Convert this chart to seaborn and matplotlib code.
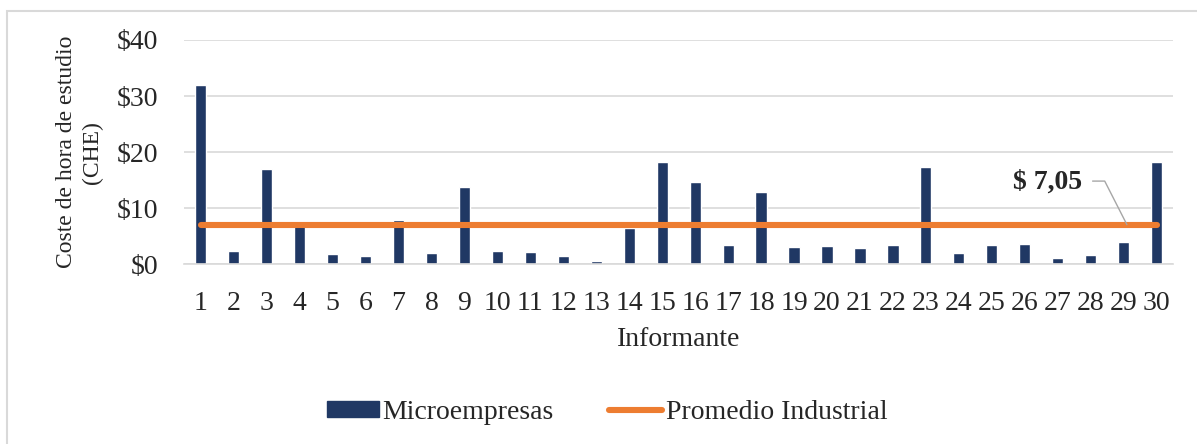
from __future__ import annotations

import pandas as pd
import seaborn as sns
import matplotlib.pyplot as plt
from matplotlib.patches import Rectangle
from matplotlib.lines import Line2D

informantes = [str(i) for i in range(1, 31)]
microempresas = [
    32.0, 2.3, 16.9, 6.8, 1.8, 1.4, 7.9, 2.0, 13.7, 2.3,
    2.2, 1.4, 0.6, 6.4, 18.3, 14.6, 3.5, 12.8, 3.1, 3.2,
    2.9, 3.4, 17.4, 2.0, 3.4, 3.6, 1.1, 1.7, 4.0, 18.3,
]
promedio_industrial = 7.05
y_ticks = [0, 10, 20, 30, 40]

BAR_COLOR = "#203864"
LINE_COLOR = "#ED7D31"
GRID_COLOR = "#D9D9D9"
FS = 20


def main() -> None:
    df = pd.DataFrame(
        {
            "Informante": informantes,
            "CHE": microempresas,
            "Promedio": [promedio_industrial] * len(informantes),
        }
    )

    sns.set_theme(style="white")
    plt.rcParams["font.family"] = ["Liberation Serif", "DejaVu Serif"]

    fig = plt.figure(figsize=(11.97, 4.44), dpi=100)
    ax = fig.add_axes([0.154, 0.405, 0.826, 0.505])

    sns.barplot(data=df, x="Informante", y="CHE", color=BAR_COLOR,
                width=0.34, saturation=1, ax=ax, zorder=2)
    sns.lineplot(data=df, x="Informante", y="Promedio", color=LINE_COLOR,
                 linewidth=4.4, ax=ax, zorder=3, solid_capstyle="round")

    ax.set_xlim(-0.5, len(informantes) - 0.5)
    ax.set_ylim(0, 40)
    ax.set_yticks(y_ticks)
    ax.set_yticklabels([f"${t}" for t in y_ticks])
    ax.yaxis.grid(True, color=GRID_COLOR, linewidth=1.2)
    ax.set_axisbelow(True)
    for side in ["left", "right", "top"]:
        ax.spines[side].set_visible(False)
    ax.spines["bottom"].set_color(GRID_COLOR)
    ax.spines["bottom"].set_linewidth(1.2)
    ax.tick_params(axis="y", length=0, pad=19, labelsize=FS)
    ax.tick_params(axis="x", length=0, pad=19, labelsize=FS)

    ax.set_xlabel("Informante", fontsize=FS, labelpad=8)
    ax.set_ylabel("Coste de hora de estudio\n(CHE)", fontsize=17,
                  labelpad=10, linespacing=1.25)

    ax.annotate(
        "$ 7,05", xy=(28.1, promedio_industrial), xytext=(25.7, 14.6),
        textcoords="data", ha="center", va="center", fontsize=FS,
        fontweight="bold",
        arrowprops=dict(arrowstyle="-", color="#A6A6A6", lw=1,
                        relpos=(1, 0.55), shrinkA=5, shrinkB=0,
                        connectionstyle="angle,angleA=0,angleB=117,rad=0"),
    )

    handles = [
        Rectangle((0, 0), 1, 1, color=BAR_COLOR),
        Line2D([0], [0], color=LINE_COLOR, linewidth=4.4),
    ]
    fig.legend(handles, ["Microempresas", "Promedio Industrial"],
               loc="center", bbox_to_anchor=(0.507, 0.072), ncol=2,
               frameon=False, fontsize=FS, handlelength=1.9,
               handleheight=0.5, handletextpad=0.12, columnspacing=2.0)

    fig.add_artist(Rectangle((6.5 / 1197, -0.1), 1.2, 1.1 - 11 / 444,
                             transform=fig.transFigure, fill=False,
                             edgecolor=GRID_COLOR, linewidth=1.5))

    fig.savefig("out.png", dpi=100)
    plt.close(fig)


if __name__ == "__main__":
    main()
